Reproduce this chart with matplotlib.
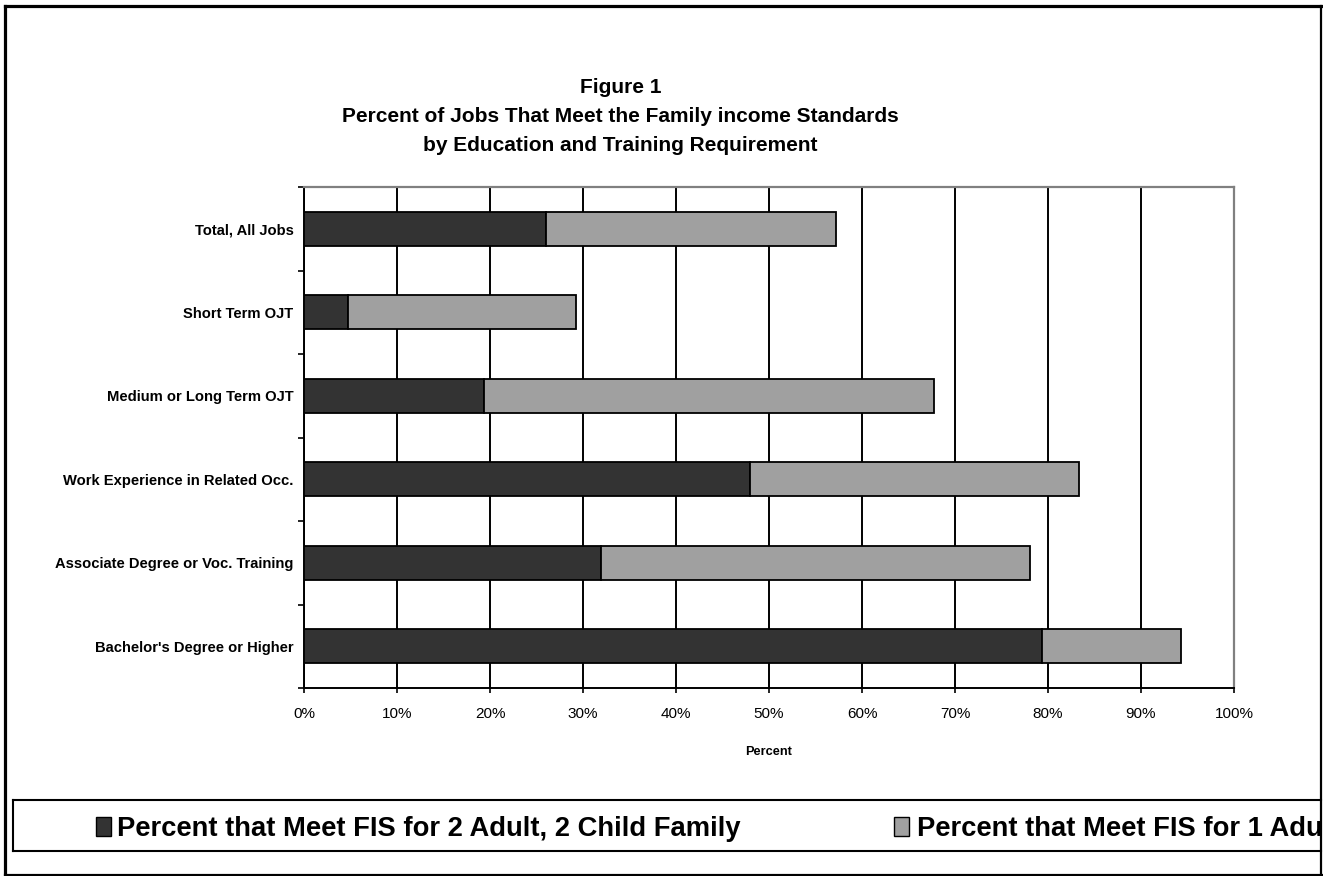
import numpy as np
import matplotlib
matplotlib.use("Agg")
import matplotlib.pyplot as plt
from matplotlib.lines import Line2D
from matplotlib.patches import Rectangle

plt.rcParams['font.family'] = ['Liberation Sans', 'DejaVu Sans']

# ---- data (top to bottom) ----
categories = ["Total, All Jobs", "Short Term OJT", "Medium or Long Term OJT",
              "Work Experience in Related Occ.", "Associate Degree or Voc. Training",
              "Bachelor's Degree or Higher"]
fis_2adult_2child = [26.0, 4.7, 19.4, 48.0, 31.9, 79.4]
fis_1adult_extra = [31.2, 24.6, 48.3, 35.3, 46.2, 14.9]
x_ticks = [0, 10, 20, 30, 40, 50, 60, 70, 80, 90, 100]
x_tick_labels = [f"{v}%" for v in x_ticks]
series_names = ["Percent that Meet FIS for 2 Adult, 2 Child Family",
                "Percent that Meet FIS for 1 Adult Family"]
title_lines = ["Figure 1",
               "Percent of Jobs That Meet the Family income Standards",
               "by Education and Training Requirement"]

W, H = 1323, 876
fig = plt.figure(figsize=(W / 100, H / 100), dpi=100)
fig.patch.set_facecolor('white')


def fx(px):
    return px / W


def fy(py):
    return 1 - py / H


ax = fig.add_axes([fx(304), fy(688), (1234 - 304) / W, (688 - 187) / H])
y = np.arange(len(categories))
dark_c, gray_c = '#333333', '#A0A0A0'
ax.barh(y, fis_2adult_2child, height=0.41, color=dark_c, edgecolor='black',
        linewidth=1.3, zorder=3)
ax.barh(y, fis_1adult_extra, left=fis_2adult_2child, height=0.41, color=gray_c,
        edgecolor='black', linewidth=1.3, zorder=3)

ax.set_xlim(0, 100)
ax.set_ylim(len(categories) - 0.5, -0.5)
ax.set_xticks(x_ticks)
ax.set_xticklabels(x_tick_labels, fontsize=11)
ax.tick_params(axis='x', direction='out', length=3.5, width=1.2, pad=10, colors='black')
ax.xaxis.grid(True, color='black', linewidth=1.4, zorder=0.5)
ax.set_axisbelow(True)

ax.set_yticks(y)
ax.set_yticklabels(categories, fontsize=10.6, fontweight='bold')
ax.tick_params(axis='y', which='major', length=0, pad=7.5)
ax.set_yticks(np.arange(-0.5, len(categories), 1.0), minor=True)
ax.tick_params(axis='y', which='minor', direction='out', length=4.5, width=1.2)

for s in ['left', 'bottom']:
    ax.spines[s].set_color('black')
    ax.spines[s].set_linewidth(1.4)
for s in ['top', 'right']:
    ax.spines[s].set_color('#808080')
    ax.spines[s].set_linewidth(1.6)

ax.set_xlabel("Percent", fontsize=9.2, fontweight='bold')
ax.xaxis.set_label_coords(0.5, -(746 - 688) / (688 - 187))
ax.xaxis.label.set_va('top')

# ---- title ----
for line, base in zip(title_lines, [93, 122, 151]):
    fig.text(fx(620.5), fy(base), line, ha='center', va='baseline',
             fontsize=15, fontweight='bold')

# ---- legend (manual, box spans the figure width) ----
fig.add_artist(Rectangle((fx(96), fy(836)), (111 - 96) / W, (836 - 817) / H,
                         transform=fig.transFigure, facecolor=dark_c,
                         edgecolor='black', linewidth=1.0))
fig.add_artist(Rectangle((fx(894), fy(836)), (909 - 894) / W, (836 - 817) / H,
                         transform=fig.transFigure, facecolor=gray_c,
                         edgecolor='black', linewidth=1.0))
fig.text(fx(117), fy(836), series_names[0], ha='left', va='baseline',
         fontsize=19.7, fontweight='bold')
fig.text(fx(917), fy(836), series_names[1], ha='left', va='baseline',
         fontsize=19.7, fontweight='bold')

lw_box = 1.5
for (x0, y0, x1, y1) in [(13, 800, 1321, 800), (13, 851, 1321, 851), (13, 800, 13, 851)]:
    fig.add_artist(Line2D([fx(x0), fx(x1)], [fy(y0), fy(y1)], transform=fig.transFigure,
                          color='black', linewidth=lw_box, zorder=10))

# ---- outer frame ----
fig.add_artist(Rectangle((fx(1320), 0), (W - 1320) / W, 1, transform=fig.transFigure,
                         facecolor='white', edgecolor='none', zorder=9))
frame = [(4.5, 5.5, 4.5, 874.5, 2.3), (4.5, 5.5, 1321, 5.5, 2.3),
         (4.5, 874.5, 1321, 874.5, 2.3), (1320.5, 5.5, 1320.5, 874.5, 1.6)]
for (x0, y0, x1, y1, lw) in frame:
    fig.add_artist(Line2D([fx(x0), fx(x1)], [fy(y0), fy(y1)], transform=fig.transFigure,
                          color='black', linewidth=lw, zorder=11, solid_capstyle='projecting'))

fig.savefig("out.png", dpi=100, facecolor='white')
